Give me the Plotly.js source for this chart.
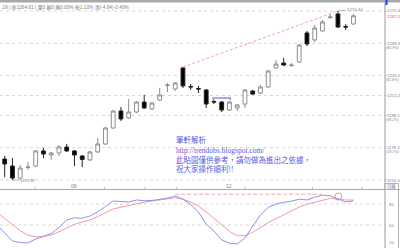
<!DOCTYPE html>
<html>
<head>
<meta charset="utf-8">
<script src="https://cdn.plot.ly/plotly-3.0.1.min.js"></script>
<style>html,body{margin:0;padding:0;background:#fff;}#chart{width:400px;height:248px;}</style>
</head>
<body>
<div id="chart"></div>
<script>
// ---- data ----
const opens  = [1168.4,1163.6,1155.3,1162.6,1163.6,1174.0,1171.2,1172.6,1176.7,1174.0,1170.5,1167.8,1173.3,1178.8,1189.8,1201.5,1196.7,1200.8,1207.7,1202.9,1209.1,1219.1,1216.7,1231.2,1218.4,1217.0,1216.0,1208.1,1207.7,1202.2,1203.6,1206.3,1215.3,1213.9,1218.1,1231.2,1234.6,1232.9,1235.3,1255.3,1250.5,1256.7,1266.0,1268.4,1259.8,1261.5];
const highs  = [1170.5,1169.1,1164.3,1166.4,1174.6,1176.0,1173.3,1178.1,1178.8,1174.6,1171.2,1174.0,1182.9,1190.5,1202.2,1204.3,1209.8,1208.4,1212.6,1207.7,1217.4,1220.8,1221.5,1231.8,1220.1,1218.8,1216.7,1209.1,1208.4,1208.4,1206.3,1216.7,1216.0,1219.4,1229.8,1236.7,1238.1,1234.6,1247.7,1256.7,1260.8,1264.2,1268.4,1270.44,1261.5,1268.4];
const lows   = [1156.0,1153.97,1154.7,1160.9,1162.9,1169.1,1167.8,1170.5,1173.3,1163.6,1162.9,1167.1,1172.6,1178.1,1189.1,1194.6,1196.0,1200.1,1202.9,1202.2,1208.4,1214.6,1215.3,1217.4,1216.0,1213.9,1203.6,1206.3,1200.8,1201.5,1201.5,1203.6,1212.6,1213.2,1217.4,1230.5,1232.5,1231.8,1234.6,1246.3,1249.1,1256.0,1264.9,1258.7,1257.3,1260.8];
const closes = [1165.0,1155.3,1162.2,1162.9,1174.0,1171.9,1172.6,1176.7,1174.0,1171.2,1168.1,1173.3,1178.8,1189.8,1201.5,1196.0,1200.8,1207.7,1203.6,1207.0,1212.6,1219.4,1220.8,1218.8,1218.1,1216.7,1206.3,1207.7,1202.2,1207.7,1205.7,1216.0,1213.2,1218.1,1229.1,1233.9,1233.2,1233.2,1247.0,1247.7,1258.7,1262.9,1266.3,1259.4,1259.4,1267.1];
const sessions = opens.map((_, i) => i);

const kdSessions = [-1].concat(sessions);
const kValues = [50,37.9,27.1,25,24.3,30,33.6,37.6,46.4,57.1,60.3,59.6,62.9,68.6,76.4,84.3,83.6,82.9,85.7,84.6,85,86.4,88.3,91.4,87.1,79.3,68.6,51.4,41.4,28.6,24,22.9,31.4,48.6,64.3,75,80,82.4,84,86.9,85.7,89.7,92.6,91.7,87.4,82.9,84.3];
const dValues = [68,59.3,50.4,42,35.4,33.3,33.3,35.7,40.3,45.3,50.9,54.4,57.1,61.9,67,72.9,75.4,78,80.4,82.6,84.3,85.7,87.3,88.9,86.7,82.9,77.1,68.7,59.6,50.4,41,34.7,34.7,39.6,46.7,53.4,59,64.4,70.1,75.6,79.7,82.4,85.3,88.1,86.9,85.7,85.7];

const fibLevels = [1270.44,1248.2,1225.95,1212.2,1198.46,1176.22,1153.97];
const fibLabels = ["1270.4","1248.3","1226.0","1212.2","1198.5","1176.2","1154.0"];
const fibPcts   = ["","(80.9%)","(61.8%)","","(38.2%)","(19.1%)",""];

const kdLevels = [80,50];
const kdLabels = ["80","50","20"];
const kdLabelVals = [80,50,20];

const tickSessions = [9,29];
const tickLabels = ["06","12"];
const minorTicks = [3.9,12.9,18.1,22.2,31,39.7,46.1];

const headerText = ".19 | 收1264.61 | 量0 額0 換0.00% 振1.10% 漲(-4.64)-0.40%";
const noteLines = ["筆軒解析","http://trendobs.blogspot.com/","此貼圖僅供參考，請勿做為進出之依據，","祝大家操作順利!!"];

// ---- geometry ----
const H = 248, PW = 385;
const py = p => 1 - p / H;   // pixel y -> paper
const px = p => p / PW;      // pixel x -> paper

const traces = [
  {type:'candlestick', x:sessions, open:opens, high:highs, low:lows, close:closes,
   xaxis:'x', yaxis:'y', whiskerwidth:0, hoverinfo:'skip',
   increasing:{line:{color:'#8e8e8e', width:1}, fillcolor:'#ffffff'},
   decreasing:{line:{color:'#222222', width:1}, fillcolor:'#000000'}},
  {type:'scatter', mode:'lines', x:kdSessions, y:dValues, xaxis:'x', yaxis:'y2',
   line:{color:'#f29a9a', width:1}, hoverinfo:'skip'},
  {type:'scatter', mode:'lines', x:kdSessions, y:kValues, xaxis:'x', yaxis:'y2',
   line:{color:'#9090f0', width:1}, hoverinfo:'skip'}
];

const shapes = [];
const annotations = [];
const labelFont = {family:'Liberation Sans, Arial', size:4.3, color:'#808080'};
const pctFont = {family:'Liberation Sans, Arial', size:3.6, color:'#808080'};

// top gray border
shapes.push({type:'rect', xref:'paper', yref:'paper', x0:0, x1:400/PW, y0:py(2.5), y1:1,
  fillcolor:'#a8a8a8', line:{width:0}, layer:'above'});
// right vertical axis line
shapes.push({type:'line', xref:'paper', yref:'paper', x0:1, x1:1, y0:0, y1:py(2.5),
  line:{color:'#9a9a9a', width:1}});
// fib dashed grid + labels
fibLevels.forEach((lv, i) => {
  shapes.push({type:'line', xref:'paper', yref:'y', x0:0, x1:1.006, y0:lv, y1:lv,
    line:{color:'#d6d6d6', width:1, dash:'3px,3px'}, layer:'below'});
  annotations.push({xref:'paper', yref:'y', x:1, y:lv, xanchor:'left', yanchor:'middle',
    xshift:0.5, borderpad:0, text:fibLabels[i], showarrow:false, font:labelFont});
  if (fibPcts[i]) annotations.push({xref:'paper', yref:'y', x:1, y:lv, xanchor:'left', yanchor:'middle',
    xshift:0, yshift:-4.4, borderpad:0, text:fibPcts[i], showarrow:false, font:pctFont});
});
// last close label in red
annotations.push({xref:'paper', yref:'y', x:1, y:closes[closes.length-1], xanchor:'left', yanchor:'middle',
  xshift:0.5, yshift:-0.5, borderpad:0, text:closes[closes.length-1].toFixed(1), showarrow:false,
  font:{family:'Liberation Sans, Arial', size:4.3, color:'#e05050'}});
// blue marker top-right
shapes.push({type:'rect', xref:'paper', yref:'paper', x0:px(385.5), x1:px(387.5), y0:py(5), y1:1,
  fillcolor:'#2040e0', line:{width:0}, layer:'above'});

// trend line through highs
shapes.push({type:'line', xref:'x', yref:'y', x0:23, x1:43, y0:highs[23], y1:highs[43],
  line:{color:'#f4a4a4', width:1, dash:'3px,2px'}});
// blue bracket
const bTop = 1210.5, bEnd = 1209.1;
shapes.push({type:'path', xref:'x', yref:'y',
  path:`M 26.9,${bEnd} L 26.9,${bTop} L 29.1,${bTop} L 29.1,${bEnd}`,
  line:{color:'#8c8ce8', width:1.5}});

// extreme labels
annotations.push({xref:'x', yref:'y', x:43, y:highs[43], ax:8, ay:-1, axref:'pixel', ayref:'pixel',
  showarrow:true, arrowhead:0, arrowwidth:0.6, arrowcolor:'#888', xanchor:'left', yanchor:'middle',
  borderpad:0, text:highs[43].toFixed(2), font:labelFont});
annotations.push({xref:'x', yref:'y', x:1, y:lows[1], ax:7, ay:0,
  showarrow:true, arrowhead:0, arrowwidth:0.6, arrowcolor:'#888', xanchor:'left', yanchor:'middle',
  borderpad:0, text:lows[1].toFixed(2), font:labelFont});

// header
annotations.push({xref:'paper', yref:'paper', x:0, y:py(7.5), xanchor:'left', yanchor:'middle',
  text:headerText, showarrow:false, borderpad:0,
  font:{family:'Liberation Sans, Noto Sans CJK TC', size:4.8, color:'#808080'}});

// note text block (one text, four lines)
annotations.push({xref:'paper', yref:'paper', x:px(175), y:py(154.5), xanchor:'left', yanchor:'middle',
  align:'left', text:noteLines.join('<br>'), showarrow:false, borderpad:0,
  font:{family:'Liberation Serif, Noto Sans CJK TC', size:7.5, color:'#5a5ae2'}});

// x-axis labels and tick marks
tickSessions.forEach((s, i) => {
  annotations.push({xref:'x', yref:'paper', x:s, y:py(186.3), xanchor:'center', yanchor:'middle',
    borderpad:0, text:tickLabels[i], showarrow:false, font:{family:'Liberation Sans, Arial', size:5, color:'#808080'}});
});
minorTicks.forEach(s => {
  shapes.push({type:'line', xref:'x', yref:'paper', x0:s, x1:s, y0:py(189), y1:py(186.5),
    line:{color:'#c0c0c0', width:1}});
});
// separator between panels
shapes.push({type:'line', xref:'paper', yref:'paper', x0:0, x1:400/PW, y0:py(189.5), y1:py(189.5),
  line:{color:'#a8a8a8', width:1}});
// small box at right of separator
shapes.push({type:'rect', xref:'paper', yref:'paper', x0:1, x1:px(398.5), y0:py(189.5), y1:py(183.5),
  line:{color:'#b0b0b0', width:1}, fillcolor:'rgba(0,0,0,0)'});
annotations.push({xref:'paper', yref:'paper', x:px(392), y:py(186.5), xanchor:'center', yanchor:'middle',
  borderpad:0, text:'日線', showarrow:false, font:{family:'Noto Sans CJK TC', size:4.3, color:'#707070'}});
shapes.push({type:'line', xref:'paper', yref:'paper', x0:px(398.5), x1:px(398.5), y0:0, y1:py(189.5),
  line:{color:'#b0b0b0', width:1}});

// KD grid, labels
kdLevels.forEach(lv => {
  shapes.push({type:'line', xref:'paper', yref:'y2', x0:0, x1:1, y0:lv, y1:lv,
    line:{color:'#d8d8d8', width:1, dash:'3px,3px'}, layer:'below'});
});
kdLabelVals.forEach((v, i) => {
  annotations.push({xref:'paper', yref:'y2', x:1, y:v, xanchor:'left', yanchor:'middle',
    xshift:3, yshift:(v < 30 ? 4 : 0), borderpad:0, text:kdLabels[i], showarrow:false, font:labelFont});
});
// KD divergence marks
shapes.push({type:'line', xref:'x', yref:'y2', x0:22, x1:40.9, y0:94, y1:94,
  line:{color:'#f4a4a4', width:1, dash:'4px,2px'}});
shapes.push({type:'circle', xref:'x', yref:'y2', x0:42.6, x1:43.5, y0:85.7, y1:95.7,
  line:{color:'#f09090', width:1}});

const layout = {
  width:400, height:248,
  margin:{l:0, r:15, t:0, b:0, pad:0},
  paper_bgcolor:'#ffffff', plot_bgcolor:'#ffffff',
  showlegend:false,
  xaxis:{range:[-0.606, 49.07], domain:[0,1], anchor:'y', showgrid:false, zeroline:false,
         showline:false, showticklabels:false, ticks:'', rangeslider:{visible:false}, fixedrange:true},
  yaxis:{domain:[py(183), py(2)], range:[1151.90, 1276.64], showgrid:false, zeroline:false,
         showticklabels:false, ticks:'', fixedrange:true},
  yaxis2:{domain:[0, py(190)], range:[17.14, 100], showgrid:false, zeroline:false,
         showticklabels:false, ticks:'', fixedrange:true},
  shapes:shapes,
  annotations:annotations
};

Plotly.newPlot('chart', traces, layout, {staticPlot:true, displayModeBar:false});
</script>
</body>
</html>
